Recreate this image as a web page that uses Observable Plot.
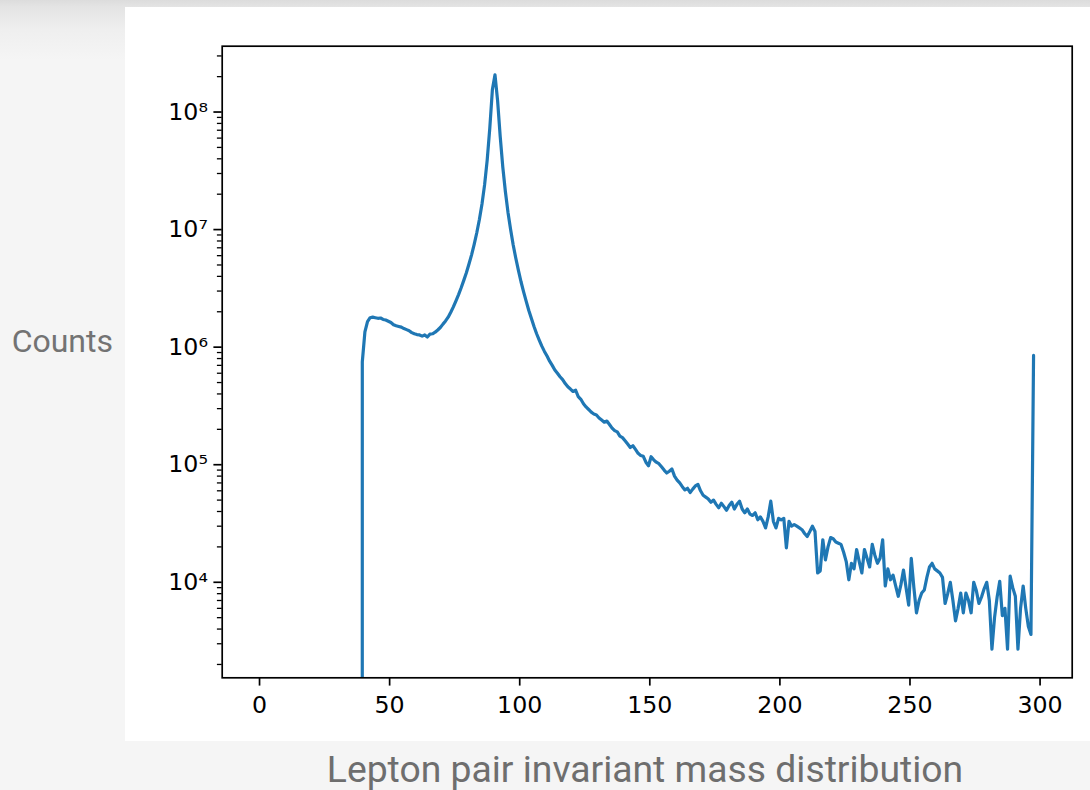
<!DOCTYPE html>
<html><head><meta charset="utf-8">
<script src="https://cdn.jsdelivr.net/npm/d3@7"></script>
<script src="https://cdn.jsdelivr.net/npm/@observablehq/plot@0.6"></script>
<style>
html,body{margin:0;padding:0;width:1090px;height:790px;overflow:hidden;}
body{position:relative;background:linear-gradient(#dcdcdc 0px,#e4e4e4 7px,#efefef 30px,#f5f5f5 60px);font-family:Roboto,sans-serif;}
#panel{position:absolute;left:125px;top:7px;width:965px;height:734px;background:#fff;}
#ylabel{position:absolute;right:977px;top:325px;color:#737373;font-size:32px;line-height:1;white-space:nowrap;}
#caption{position:absolute;left:245px;width:800px;top:751px;text-align:center;color:#6e6e6e;font-size:37.3px;line-height:1;white-space:nowrap;}
</style>
</head><body>
<div id="ylabel">Counts</div>
<div id="panel"></div>
<div id="caption">Lepton pair invariant mass distribution</div>
<script>
// Histogram: bin centres start at firstBinCentre, one GeV wide
const firstBinCentre = 0.5;
const binWidth = 1;
// counts per bin (bins 0..297)
const counts = [
  0,0,0,0,0,0,0,0,0,0, 0,0,0,0,0,0,0,0,0,0,
  0,0,0,0,0,0,0,0,0,0, 0,0,0,0,0,0,0,0,0,
  7.5e5,1.35e6,1.65e6,1.78e6,1.80e6,1.78e6,1.76e6,1.77e6,1.72e6,1.70e6,
  1.66e6,1.62e6,1.55e6,1.52e6,1.50e6,1.48e6,1.44e6,1.41e6,1.38e6,1.33e6,
  1.30e6,1.28e6,1.27e6,1.24e6,1.27e6,1.22e6,1.29e6,1.30e6,1.34e6,1.40e6,
  1.47e6,1.57e6,1.67e6,1.80e6,1.98e6,2.2e6,2.48e6,2.8e6,3.2e6,3.7e6,
  4.3e6,5.1e6,6.1e6,7.5e6,9.4e6,1.22e7,1.65e7,2.4e7,3.9e7,7.3e7,
  1.55e8,2.07e8,1.25e8,6.2e7,3.4e7,2.1e7,1.4e7,1.0e7,7.4e6,5.7e6,
  4.5e6,3.6e6,2.95e6,2.45e6,2.05e6,1.75e6,1.5e6,1.3e6,1.15e6,1.02e6,
  9.2e5,8.4e5,7.6e5,7.0e5,6.4e5,6.0e5,5.6e5,5.3e5,4.9e5,4.6e5,
  4.4e5,4.2e5,4.3e5,3.8e5,3.6e5,3.3e5,3.1e5,2.95e5,2.8e5,2.7e5,
  2.65e5,2.5e5,2.4e5,2.3e5,2.35e5,2.2e5,2.05e5,1.95e5,1.9e5,1.75e5,
  1.7e5,1.6e5,1.5e5,1.4e5,1.45e5,1.35e5,1.25e5,1.2e5,1.18e5,1.05e5,
  9.8e4,1.17e5,1.1e5,1.05e5,1.02e5,9.6e4,9.0e4,8.5e4,8.8e4,9.2e4,
  8.0e4,7.4e4,7.0e4,6.5e4,6.1e4,6.3e4,5.8e4,6.2e4,6.6e4,6.8e4,
  6.0e4,5.5e4,5.3e4,5.1e4,4.8e4,5.0e4,4.6e4,4.3e4,4.7e4,4.4e4,
  4.1e4,4.5e4,4.8e4,4.2e4,4.6e4,4.9e4,4.2e4,3.9e4,4.2e4,3.8e4,
  3.7e4,3.9e4,3.4e4,3.6e4,3.3e4,2.9e4,3.6e4,4.9e4,3.3e4,2.9e4,
  3.5e4,3.4e4,3.5e4,1.96e4,3.3e4,3.0e4,3.1e4,3.0e4,2.9e4,2.8e4,
  2.6e4,2.45e4,2.7e4,3.0e4,2.7e4,1.2e4,1.25e4,2.3e4,1.55e4,2.0e4,
  2.4e4,2.35e4,2.2e4,2.15e4,2.1e4,1.8e4,1.5e4,1.05e4,1.45e4,1.3e4,
  1.9e4,1.5e4,1.2e4,1.9e4,1.6e4,1.35e4,2.1e4,1.7e4,1.45e4,1.6e4,
  2.3e4,9.3e3,1.3e4,1.05e4,1.15e4,9.3e3,7.6e3,9.5e3,1.27e4,9.0e3,
  6.4e3,1.6e4,9.0e3,5.5e3,7.0e3,8.1e3,8.6e3,1.1e4,1.35e4,1.45e4,
  1.3e4,1.25e4,1.2e4,1.1e4,6.6e3,8.0e3,1.0e4,7.0e3,4.7e3,6.0e3,
  8.1e3,5.5e3,8.1e3,7.0e3,5.5e3,1.0e4,8.5e3,6.6e3,7.5e3,8.8e3,
  1.0e4,7.0e3,2.7e3,5.0e3,7.5e3,1.02e4,5.2e3,6.0e3,2.7e3,1.13e4,
  9.0e3,7.6e3,2.7e3,6.0e3,9.3e3,6.0e3,4.2e3,3.6e3,8.5e5
];
const xTicks = [0, 50, 100, 150, 200, 250, 300];
const yMajorTicks = [1e4, 1e5, 1e6, 1e7, 1e8];
const yMinorTicks = [2e3,3e3,4e3,5e3,6e3,7e3,8e3,9e3, 2e4,3e4,4e4,5e4,6e4,7e4,8e4,9e4,
  2e5,3e5,4e5,5e5,6e5,7e5,8e5,9e5, 2e6,3e6,4e6,5e6,6e6,7e6,8e6,9e6,
  2e7,3e7,4e7,5e7,6e7,7e7,8e7,9e7, 2e8,3e8];

const data = counts.map((c, i) => ({mass: firstBinCentre + i * binWidth, count: c}));
const sup = {"0":"⁰","1":"¹","2":"²","3":"³","4":"⁴","5":"⁵","6":"⁶","7":"⁷","8":"⁸","9":"⁹","-":"⁻"};
const powFmt = v => "10" + String(Math.round(Math.log10(v))).split("").map(c => sup[c]).join("");

const chart = Plot.plot({
  width: 965,
  height: 734,
  marginLeft: 96.7,
  marginRight: 18.3,
  marginTop: 38.7,
  marginBottom: 63.7,
  style: {fontFamily: "'DejaVu Sans', sans-serif", fontSize: "23.7px", color: "#000", background: "transparent"},
  x: {domain: [-14.35, 312.35]},
  y: {type: "log", domain: [1540, 3.63e8]},
  marks: [
    Plot.line(data, {x: "mass", y: d => d.count > 0 ? d.count : 1e-300, stroke: "#1f77b4", strokeWidth: 3.2, strokeLinejoin: "round", clip: true}),
    Plot.axisX(xTicks, {tickSize: 8.3, tickPadding: 10, strokeWidth: 1.7, label: null, tickFormat: d => String(d)}),
    Plot.axisY(yMajorTicks, {tickSize: 8.3, tickPadding: 6, strokeWidth: 1.7, label: null, tickFormat: powFmt}),
    Plot.axisY(yMinorTicks, {tickSize: 4.8, strokeWidth: 1.3, label: null, tickFormat: () => ""}),
    Plot.frame({stroke: "#000", strokeWidth: 1.7})
  ]
});
document.getElementById("panel").appendChild(chart);
</script>
</body></html>
